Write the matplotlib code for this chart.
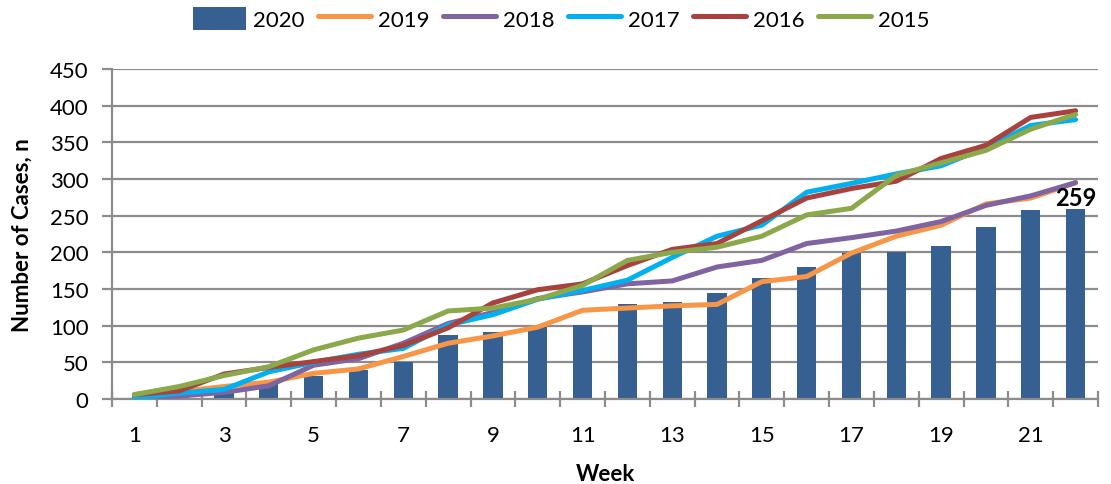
import matplotlib.pyplot as plt
from matplotlib.patches import Patch

plt.rcParams['font.family'] = ['Lato', 'DejaVu Sans']

weeks = list(range(1, 23))
cases_2020 = [1, 3, 10, 20, 32, 39, 50, 87, 92, 98, 101, 130, 132, 144,
              165, 180, 199, 201, 209, 234, 258, 259]
cases_2019 = [5, 10, 17, 23, 35, 41, 58, 76, 86, 98, 121, 124, 127, 129,
              160, 167, 199, 222, 237, 266, 274, 295]
cases_2018 = [2, 4, 9, 18, 46, 55, 76, 103, 118, 137, 146, 157, 161, 180,
              189, 212, 220, 229, 242, 264, 277, 295]
cases_2017 = [1, 8, 13, 37, 50, 61, 69, 101, 115, 136, 148, 162, 193, 222,
              237, 282, 294, 307, 318, 343, 373, 381]
cases_2016 = [6, 11, 34, 43, 51, 59, 73, 97, 131, 149, 157, 182, 204, 212,
              243, 274, 287, 297, 328, 346, 384, 393]
cases_2015 = [6, 17, 32, 44, 67, 83, 94, 120, 124, 136, 155, 189, 200, 207,
              222, 251, 260, 305, 322, 339, 368, 388]

line_series = [
    ('2019', cases_2019, '#F79646'),
    ('2018', cases_2018, '#8064A2'),
    ('2017', cases_2017, '#00B0F0'),
    ('2016', cases_2016, '#A8423F'),
    ('2015', cases_2015, '#8BA84A'),
]

grey = '#8c8c8c'
bar_color = '#366092'

fig = plt.figure(figsize=(11.11, 4.85), dpi=100)
ax = fig.add_axes([0.1008, 0.1753, 0.8875, 0.6804])

ax.bar(weeks, cases_2020, width=0.43, color=bar_color, zorder=2)
handles = [Patch(facecolor=bar_color, label='2020')]
for name, vals, color in line_series:
    ln, = ax.plot(weeks, vals, color=color, lw=3.6, label=name,
                  solid_joinstyle='round', solid_capstyle='round', zorder=3)
    handles.append(ln)

# label on the last bar
ax.annotate(str(cases_2020[-1]), (weeks[-1], cases_2020[-1]),
            xytext=(0, 0), textcoords='offset points',
            ha='center', va='bottom', fontsize=17, fontweight='bold', zorder=4)

ax.set_xlim(0.5, 22.5)
ax.set_ylim(0, 450)
ax.set_yticks(range(0, 451, 50))
ax.grid(axis='y', color=grey, lw=1.6, zorder=0)
ax.set_axisbelow(True)

# category centres carry the labels, boundaries carry the long ticks
ax.set_xticks(weeks)
ax.set_xticklabels([str(w) if w % 2 == 1 else '' for w in weeks])
ax.set_xticks([w - 0.5 for w in weeks] + [22.5], minor=True)
ax.tick_params(axis='x', which='major', direction='in', length=4,
               color=grey, width=1.2, pad=19, labelsize=16)
ax.tick_params(axis='x', which='minor', direction='inout', length=12,
               color=grey, width=1.6)
ax.tick_params(axis='y', direction='out', length=7, color=grey, width=1.6,
               labelsize=16, pad=10)

for side in ('top', 'right'):
    ax.spines[side].set_visible(False)
for side in ('left', 'bottom'):
    ax.spines[side].set_color(grey)
    ax.spines[side].set_linewidth(1.6)

ax.set_xlabel('Week', fontsize=16, fontweight='bold', labelpad=13)
ax.set_ylabel('Number of Cases, n', fontsize=16, fontweight='bold', labelpad=12)

fig.legend(handles=handles, loc='upper center', bbox_to_anchor=(0.505, 1.025),
           ncol=6, frameon=False, fontsize=16, handlelength=2.4,
           handleheight=1.2, handletextpad=0.3, columnspacing=0.6)

fig.savefig('out.png', dpi=100)
